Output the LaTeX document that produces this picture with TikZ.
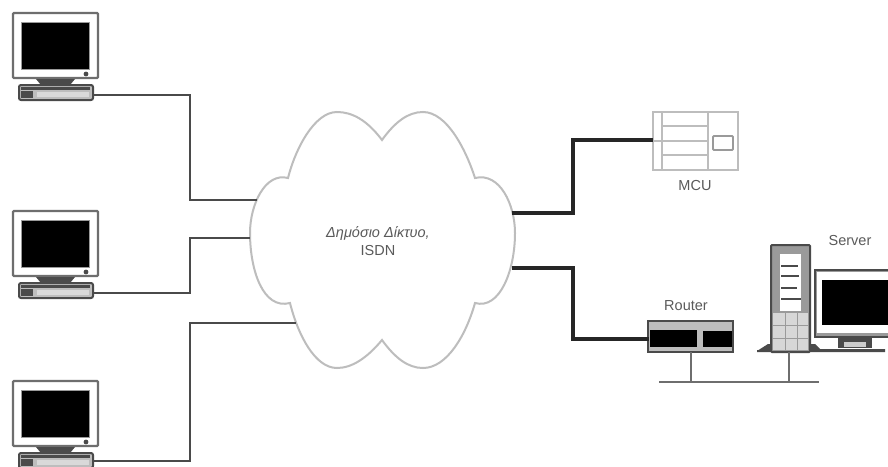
\documentclass[tikz,border=0pt]{standalone}
\usepackage{fontspec}
\setmainfont{Liberation Sans}
\definecolor{ln}{HTML}{4A4A4A}
\definecolor{soft}{HTML}{9A9A9A}
\definecolor{pale}{HTML}{BDBDBD}
\definecolor{lbl}{HTML}{5A5A5A}
\tikzset{
  wire/.style={draw=ln,line width=2.2pt,line join=miter},
  thickwire/.style={draw=black!85,line width=3.6pt,line join=miter},
  outline/.style={draw=soft,line width=1.8pt},
  thin part/.style={draw=pale,line width=2pt},
  label text/.style={text=lbl,font=\fontsize{14.5}{18}\selectfont,inner sep=0pt,align=center},
  pics/pc/.style={code={
    \draw[draw=ln!80,line width=2.4pt,fill=white,rounded corners=1pt] (13,13) rectangle (98,78);
    \fill[black] (21,22) rectangle (89,69);
    \draw[draw=soft,line width=1pt] (21,22) rectangle (89,69);
    \fill[ln] (86,74) circle (2.4);
    \fill[ln] (36,79) -- (75,79) -- (70,85) -- (41,85) -- cycle;
    \draw[draw=ln,line width=2pt,fill=pale,rounded corners=2pt] (19,85) rectangle (93,100);
    \fill[ln] (21,87) rectangle (90,90);
    \fill[white!85!black] (37,92) rectangle (89,97);
    \fill[ln] (21,91) rectangle (33,98);
  }}
}
\begin{document}
\begin{tikzpicture}[x=1pt,y=-1pt]
\useasboundingbox (0,0) rectangle (888,466);
\fill[white] (0,0) rectangle (888,466);

% Computers
\pic at (0,0) {pc};
\pic at (0,198) {pc};
\pic at (0,368) {pc};
\coordinate (pcA) at (93,95);
\coordinate (pcB) at (93,293);
\coordinate (pcC) at (93,461);

% Cloud
\coordinate (cloudL1) at (257,200);
\coordinate (cloudL2) at (250,238);
\coordinate (cloudL3) at (296,323);
\coordinate (cloudR1) at (512,213);
\coordinate (cloudR2) at (512,268);
\path[draw=pale,line width=2pt,fill=white]
  (382,140)
  .. controls (367,120) and (352,112) .. (337,112)
  .. controls (314,112) and (295,150) .. (288,178)
  .. controls (265,172) and (250,205) .. (250,233)
  .. controls (250,270) and (263,310) .. (290,303)
  .. controls (298,335) and (315,368) .. (337,368)
  .. controls (352,368) and (367,358) .. (382,340)
  .. controls (395,358) and (408,368) .. (423,368)
  .. controls (447,368) and (466,335) .. (475,303)
  .. controls (500,310) and (515,270) .. (515,233)
  .. controls (515,205) and (500,172) .. (475,178)
  .. controls (466,150) and (447,112) .. (423,112)
  .. controls (408,112) and (395,122) .. (382,140)
  -- cycle;
\node[label text] (cloudtext) at (378,241) {\itshape Δημόσιο Δίκτυο,\\ISDN};

% MCU
\draw[outline,draw=pale] (653,112) rectangle (738,170);
\draw[thin part] (662,112) -- (662,170) (708,112) -- (708,170);
\draw[thin part] (662,126) -- (708,126) (653,141) -- (708,141) (662,155) -- (708,155);
\draw[outline,rounded corners=1pt] (713,136) rectangle (733,150);
\coordinate (mcuIn) at (653,140);
\node[label text] (mculabel) at (695,186) {MCU};

% Router
\draw[draw=ln,line width=2pt,fill=pale] (648,321) rectangle (733,352);
\fill[black] (650,330) rectangle (697,347);
\fill[black] (703,331) rectangle (732,347);
\coordinate (routerIn) at (649,339);
\coordinate (routerDrop) at (691,352);
\node[label text] (routerlabel) at (686,306) {Router};

% Server
\draw[draw=ln,line width=1.8pt,fill=soft] (815,270) rectangle (890,337);
\fill[white] (817,272) rectangle (890,333);
\fill[black] (822,280) rectangle (890,325);
\draw[draw=ln,line width=2pt] (757,351) -- (885,351);
\fill[ln] (757,351) -- (768,344) -- (815,344) -- (820,349) -- (885,349) -- (885,352) -- (757,352) -- cycle;
\fill[ln] (838,337) rectangle (872,348);
\fill[white!80!black] (844,342) rectangle (866,347);
\draw[draw=ln,line width=2pt,fill=soft,rounded corners=1pt] (771,245) rectangle (810,352);
\fill[pale!60!white] (773,313) rectangle (808,350);
\draw[draw=soft,line width=.8pt] (785,313) -- (785,350) (797,313) -- (797,350) (773,325) -- (808,325) (773,338) -- (808,338);
\fill[white] (780,254) rectangle (801,311);
\foreach \yy/\xr in {266/798,276/799,288/797,299/801}{
  \draw[draw=ln,line width=1.6pt] (781,\yy) -- (\xr,\yy);
}
\coordinate (serverDrop) at (789,352);
\node[label text] (serverlabel) at (850,241) {Server};

% LAN
\coordinate (lanL) at (659,382);
\coordinate (lanR) at (819,382);
\coordinate (lanA) at (691,382);
\coordinate (lanB) at (789,382);
\draw[wire,draw=ln!80] (lanL) -- (lanR);
\draw[wire,draw=ln!80] (routerDrop) -- (lanA);
\draw[wire,draw=ln!80] (serverDrop) -- (lanB);

% Connectors
\draw[wire] (pcA) -| (190,200) -- (cloudL1);
\draw[wire] (pcB) -| (190,238) -- (cloudL2);
\draw[wire] (pcC) -| (190,323) -- (cloudL3);
\draw[thickwire] (cloudR1) -| (573,140) -- (mcuIn);
\draw[thickwire] (cloudR2) -| (573,339) -- (routerIn);
\end{tikzpicture}
\end{document}
